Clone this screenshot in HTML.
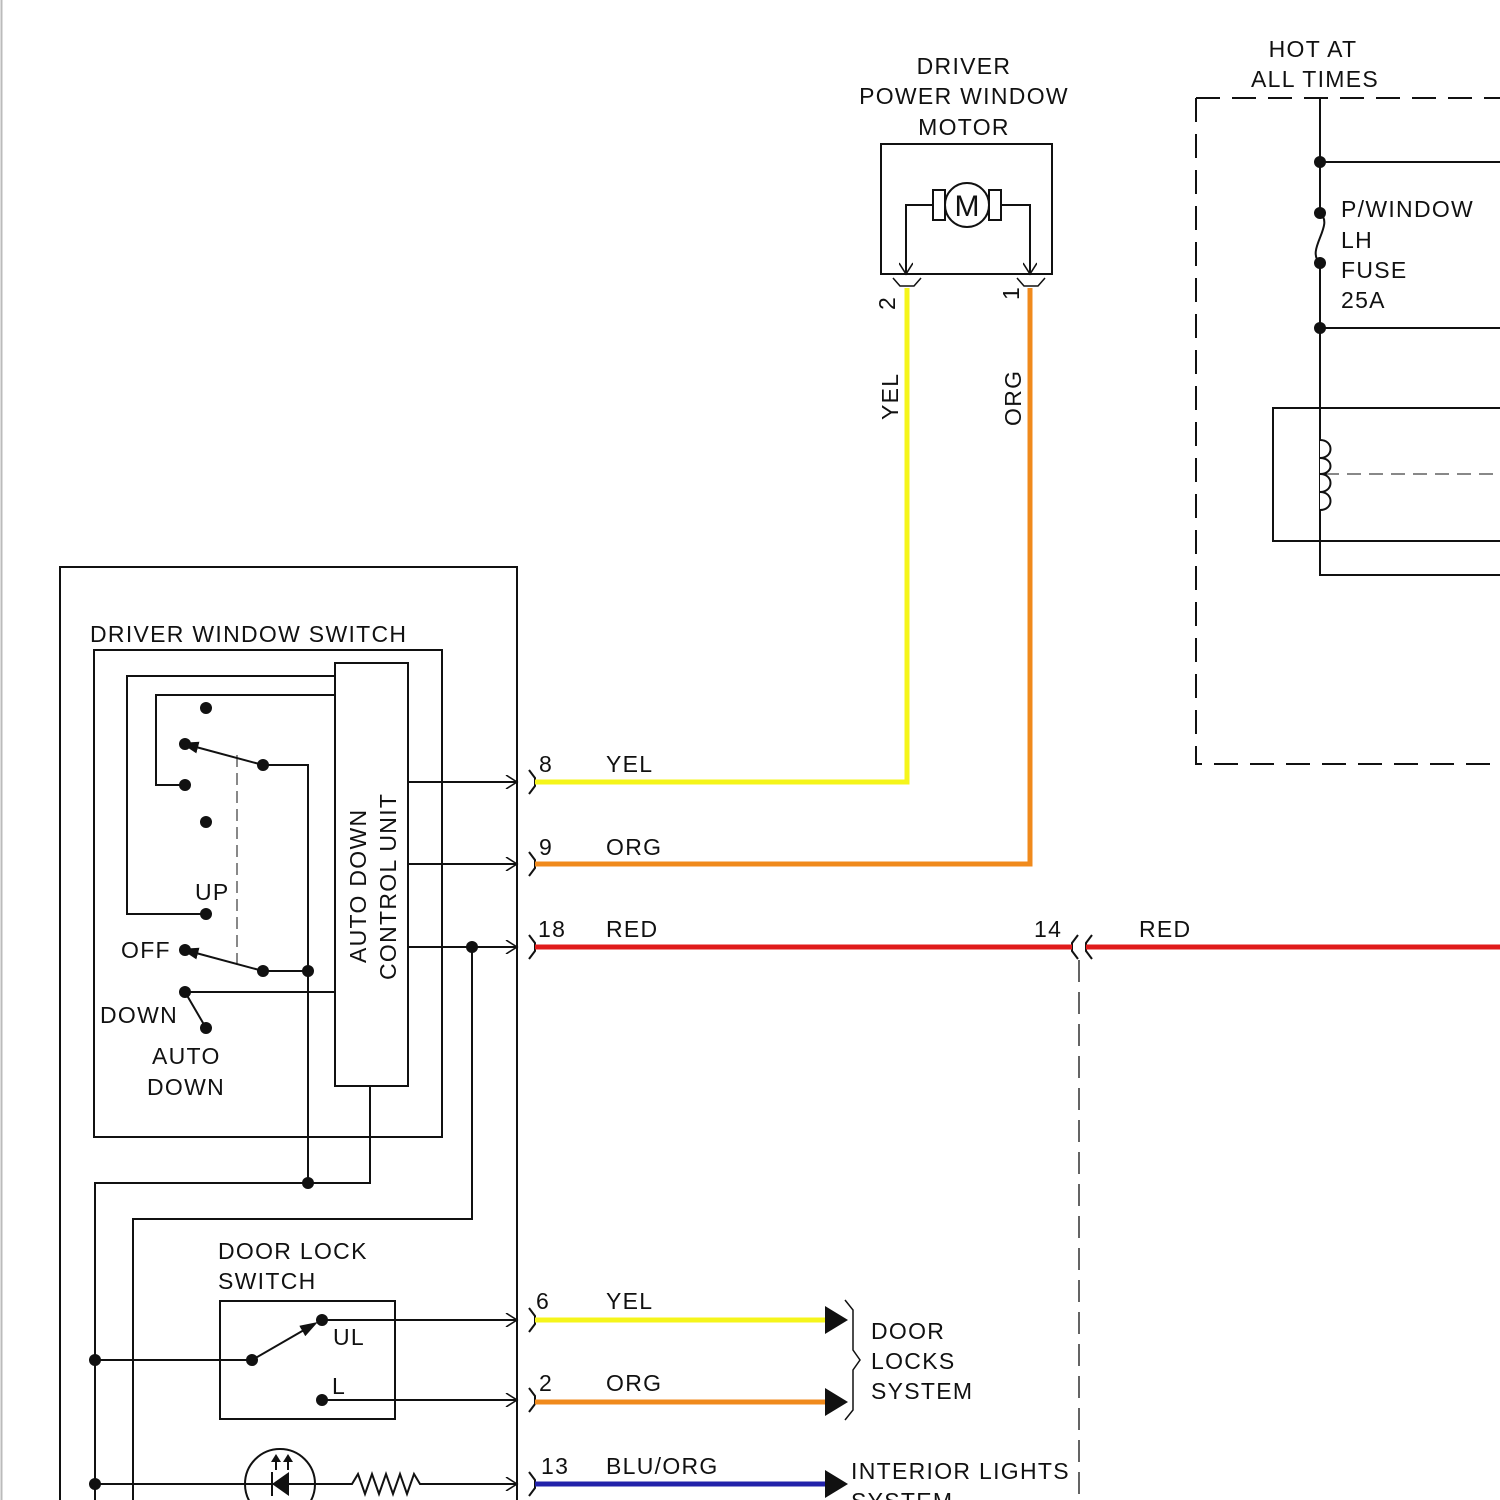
<!DOCTYPE html>
<html><head><style>body{margin:0;background:#fff}svg{display:block}text{font-family:"Liberation Sans",sans-serif;font-size:23px;fill:#111;letter-spacing:1.3px}</style></head><body>
<svg width="1500" height="1500" viewBox="0 0 1500 1500" xmlns="http://www.w3.org/2000/svg">
<defs>
<marker id="ao" markerWidth="14" markerHeight="14" refX="12" refY="7" orient="auto" markerUnits="userSpaceOnUse"><path d="M1,0 L12,7 L1,14" fill="none" stroke="#111" stroke-width="1.6"/></marker>
<marker id="af" markerWidth="18" markerHeight="12" refX="2" refY="6" orient="auto" markerUnits="userSpaceOnUse"><path d="M0,0 L18,6 L0,12 Z" fill="#111"/></marker>
</defs>
<g fill="none" stroke="#111" stroke-width="2">
<line x1="1.5" y1="0" x2="1.5" y2="1500" stroke="#bbb"/>
<path d="M60,1500 V567 H517 V1500"/>
<rect x="94" y="650" width="348" height="487"/>
<rect x="335" y="663" width="73" height="423"/>
<path d="M335,676 H127 V914 H206"/>
<path d="M335,695 H156 V785 H185"/>
<path d="M263,765 L196,747" marker-end="url(#af)"/>
<path d="M263,765 H308 V1183"/>
<line x1="237" y1="755" x2="237" y2="965" stroke-width="1" stroke-dasharray="12,6"/>
<path d="M263,971 L196,953" marker-end="url(#af)"/>
<path d="M263,971 H308"/>
<path d="M335,992 H185 L206,1028"/>
<path d="M408,782 H517" marker-end="url(#ao)"/>
<path d="M408,864 H517" marker-end="url(#ao)"/>
<path d="M408,947 H517" marker-end="url(#ao)"/>
<path d="M472,947 V1219 H133 V1500"/>
<path d="M370,1086 V1183 H95 V1500"/>
<rect x="220" y="1301" width="175" height="118"/>
<path d="M95,1360 H252"/>
<path d="M252,1360 L304,1330" marker-end="url(#af)"/>
<path d="M322,1320 H517" marker-end="url(#ao)"/>
<path d="M322,1400 H517" marker-end="url(#ao)"/>
<circle cx="280" cy="1484" r="35"/>
<path d="M95,1484 H352 L358,1474 L365,1494 L372,1474 L379,1494 L386,1474 L393,1494 L400,1474 L407,1494 L414,1474 L420,1484 H517" marker-end="url(#ao)"/>
<path d="M272,1472 V1496"/>
<path d="M276,1470 V1460 M288,1470 V1460"/>
<path d="M529,770 L535,778 V786 L529,794"/>
<path d="M529,852 L535,860 V868 L529,876"/>
<path d="M529,935 L535,943 V951 L529,959"/>
<path d="M529,1308 L535,1316 V1324 L529,1332"/>
<path d="M529,1388 L535,1396 V1404 L529,1412"/>
<path d="M529,1472 L535,1480 V1488 L529,1496"/>
<path d="M1078,935 L1072,943 V951 L1078,959 M1092,935 L1086,943 V951 L1092,959"/>
<path d="M1079,960 V1500" stroke-width="1.3" stroke-dasharray="22,10"/>
<path d="M845,1300 L853,1310 V1350 L860,1360 L853,1370 V1410 L845,1420" stroke-width="1.5"/>
<rect x="881" y="144" width="171" height="130"/>
<circle cx="967" cy="205" r="22"/>
<rect x="933" y="190" width="12" height="30"/>
<rect x="989" y="190" width="12" height="30"/>
<path d="M933,205 H906 V274" marker-end="url(#ao)"/>
<path d="M1001,205 H1030 V274" marker-end="url(#ao)"/>
<path d="M893,278 L900,286 H914 L921,278 M1017,278 L1024,286 H1038 L1045,278" stroke-width="1.5"/>
<path d="M1196,98 V764 H1500 M1196,98 H1500" stroke-dasharray="24,12"/>
<path d="M1320,98 V213 M1320,263 V575 H1500 M1320,162 H1500 M1320,328 H1500"/>
<path d="M1320,213 C1335,225 1305,250 1320,263"/>
<rect x="1273" y="408" width="240" height="133"/>
<path d="M1320,440 C1334,440 1334,458 1320,458 C1334,458 1334,474 1320,474 C1334,474 1334,492 1320,492 C1334,492 1334,510 1320,510" fill="#fff"/>
<path d="M1325,474 H1500" stroke-width="1" stroke-dasharray="14,8"/>
</g>
<g fill="none" stroke-width="5">
<path d="M535,782 H907 V288" stroke="#f5f51a"/>
<path d="M535,864 H1030 V288" stroke="#f08a1c"/>
<path d="M535,947 H1072 M1086,947 H1500" stroke="#e01b1b"/>
<path d="M535,1320 H826" stroke="#f5f51a"/>
<path d="M535,1402 H826" stroke="#f08a1c"/>
<path d="M535,1484 H826" stroke="#2222aa"/>
</g>
<g fill="#111">
<path d="M825,1306 L848,1320 L825,1334Z M825,1388 L848,1402 L825,1416Z M825,1470 L848,1484 L825,1498Z"/>
<path d="M272,1484 L289,1472 V1496Z"/>
<path d="M271,1462 L276,1454 L281,1462Z M283,1462 L288,1454 L293,1462Z"/>
<circle cx="206" cy="708" r="6"/><circle cx="185" cy="744" r="6"/><circle cx="263" cy="765" r="6"/>
<circle cx="185" cy="785" r="6"/><circle cx="206" cy="822" r="6"/><circle cx="206" cy="914" r="6"/>
<circle cx="185" cy="950" r="6"/><circle cx="263" cy="971" r="6"/><circle cx="308" cy="971" r="6"/>
<circle cx="185" cy="992" r="6"/><circle cx="206" cy="1028" r="6"/><circle cx="472" cy="947" r="6"/>
<circle cx="308" cy="1183" r="6"/><circle cx="95" cy="1360" r="6"/><circle cx="252" cy="1360" r="6"/>
<circle cx="322" cy="1320" r="6"/><circle cx="322" cy="1400" r="6"/><circle cx="95" cy="1484" r="6"/>
<circle cx="1320" cy="162" r="6"/><circle cx="1320" cy="213" r="6"/><circle cx="1320" cy="263" r="6"/><circle cx="1320" cy="328" r="6"/>
</g>
<text x="90" y="642">DRIVER WINDOW SWITCH</text>
<text x="195" y="900">UP</text>
<text x="121" y="958">OFF</text>
<text x="100" y="1023">DOWN</text>
<text x="152" y="1064">AUTO</text>
<text x="147" y="1095">DOWN</text>
<text transform="translate(366,963) rotate(-90)">AUTO DOWN</text>
<text transform="translate(396,980) rotate(-90)">CONTROL UNIT</text>
<text x="218" y="1259">DOOR LOCK</text>
<text x="218" y="1289">SWITCH</text>
<text x="333" y="1345">UL</text>
<text x="332" y="1394">L</text>
<text x="539" y="772">8</text><text x="606" y="772">YEL</text>
<text x="539" y="855">9</text><text x="606" y="855">ORG</text>
<text x="538" y="937">18</text><text x="606" y="937">RED</text>
<text x="1034" y="937">14</text><text x="1139" y="937">RED</text>
<text x="536" y="1309">6</text><text x="606" y="1309">YEL</text>
<text x="539" y="1391">2</text><text x="606" y="1391">ORG</text>
<text x="541" y="1474">13</text><text x="606" y="1474">BLU/ORG</text>
<text x="871" y="1339">DOOR</text>
<text x="871" y="1369">LOCKS</text>
<text x="871" y="1399">SYSTEM</text>
<text x="851" y="1479">INTERIOR LIGHTS</text>
<text x="851" y="1509">SYSTEM</text>
<text x="964" y="74" text-anchor="middle">DRIVER</text>
<text x="964" y="104" text-anchor="middle">POWER WINDOW</text>
<text x="964" y="135" text-anchor="middle">MOTOR</text>
<text x="967" y="216" text-anchor="middle" style="font-size:30px;letter-spacing:0">M</text>
<text transform="translate(895,310) rotate(-90)">2</text>
<text transform="translate(1019,300) rotate(-90)">1</text>
<text transform="translate(898,420) rotate(-90)">YEL</text>
<text transform="translate(1021,426) rotate(-90)">ORG</text>
<text x="1313" y="57" text-anchor="middle">HOT AT</text>
<text x="1315" y="87" text-anchor="middle">ALL TIMES</text>
<text x="1341" y="217">P/WINDOW</text>
<text x="1341" y="248">LH</text>
<text x="1341" y="278">FUSE</text>
<text x="1341" y="308">25A</text>
</svg>
</body></html>
